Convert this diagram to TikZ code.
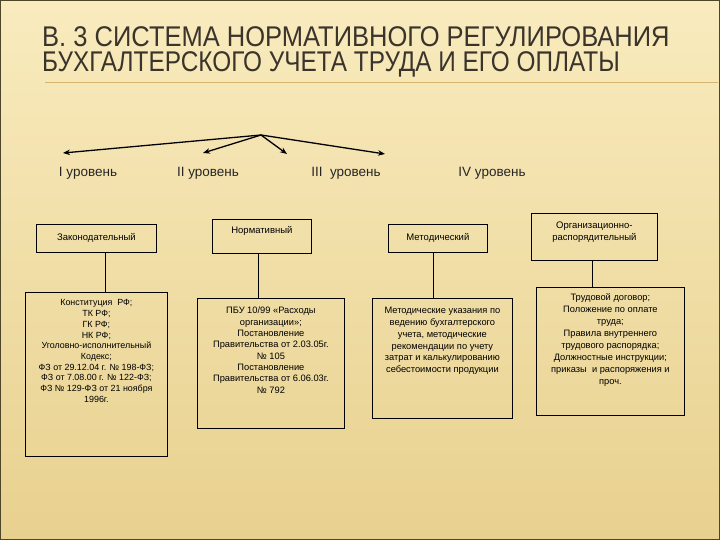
\documentclass[tikz,border=0pt]{standalone}
\usepackage{fontspec}
\setmainfont{Liberation Sans}
\newfontfamily\titlefonta[FakeStretch=0.895]{Liberation Sans}
\newfontfamily\titlefontb[FakeStretch=0.855]{Liberation Sans}
\usetikzlibrary{arrows.meta}
\definecolor{bgtop}{HTML}{F9EBBE}
\definecolor{bgbot}{HTML}{E8D18F}
\definecolor{frame}{HTML}{4D4628}
\definecolor{titlec}{HTML}{3A342B}
\definecolor{rulec}{HTML}{D8B471}
\begin{document}
\begin{tikzpicture}[x=1pt,y=-1pt,
  box/.style={draw=black, line width=0.8pt, inner sep=0pt, anchor=north west},
  lvl/.style={font=\fontsize{13.5}{15}\selectfont, text=black!85, anchor=center},
  arr/.style={line width=1.3pt, -{Stealth[length=7pt,width=5.5pt]}},
  conn/.style={line width=0.8pt},
  ttl/.style={anchor=base west, inner sep=0pt, text=titlec, text height=20.5pt, text depth=0pt}]
\useasboundingbox (0,0) rectangle (720,540);
\shade[top color=bgtop, bottom color=bgbot] (0,0) rectangle (720,540);
\draw[frame, line width=2.5pt] (0,0) rectangle (720,540);
% title
\node[ttl, font=\titlefonta\fontsize{28.5}{28.5}\selectfont] (t1) at (42,46.5) {В. 3 СИСТЕМА НОРМАТИВНОГО РЕГУЛИРОВАНИЯ};
\node[ttl, font=\titlefontb\fontsize{28.5}{28.5}\selectfont] (t2) at (42,71.5) {БУХГАЛТЕРСКОГО УЧЕТА ТРУДА И ЕГО ОПЛАТЫ};
\draw[rulec, line width=0.8pt] (45,82) -- (718,82);
% arrows
\coordinate (o) at (261,135);
\coordinate (e1) at (63,153);
\coordinate (e2) at (203,153);
\coordinate (e3) at (287,154);
\coordinate (e4) at (385,154);
\draw[arr] (o) -- (e1);
\draw[arr] (o) -- (e2);
\draw[arr] (o) -- (e3);
\draw[arr] (o) -- (e4);
% levels
\node[lvl] (l1) at (88,173) {I уровень};
\node[lvl] (l2) at (208,173) {II уровень};
\node[lvl] (l3) at (346,173) {III\ \ уровень};
\node[lvl] (l4) at (492,173) {IV уровень};
% top boxes
\node[box] (zak) at (36,224) {\parbox[c][28pt][c]{120pt}{\centering\fontsize{9.5}{12}\selectfont Законодательный}};
\node[box] (norm) at (212,219) {\parbox[c][34pt][t]{99pt}{\centering\fontsize{9.5}{12}\selectfont\rule{0pt}{14pt}Нормативный}};
\node[box] (metd) at (388,224) {\parbox[c][28pt][c]{99pt}{\centering\fontsize{9.5}{12}\selectfont Методический}};
\node[box] (org) at (531,213) {\parbox[c][47pt][t]{126pt}{\centering\fontsize{9.5}{12.5}\selectfont\rule{0pt}{15pt}Организационно-\\распорядительный}};
% bottom boxes
\node[box] (kon) at (25,292) {\parbox[c][164pt][t]{142pt}{\centering\fontsize{8.9}{10.7}\selectfont\rule{0pt}{13.5pt}Конституция\ \ РФ;\\ТК РФ;\\ГК РФ;\\НК РФ;\\Уголовно-исполнительный\\Кодекс;\\ФЗ от 29.12.04 г. № 198-ФЗ;\\ФЗ от 7.08.00 г. № 122-ФЗ;\\ФЗ № 129-ФЗ от 21 ноября\\1996г.}};
\node[box] (pbu) at (197,298) {\parbox[c][130pt][t]{147pt}{\centering\fontsize{9.3}{11.3}\selectfont\rule{0pt}{15.5pt}ПБУ 10/99 «Расходы\\организации»;\\Постановление\\Правительства от 2.03.05г.\\№ 105\\Постановление\\Правительства от 6.06.03г.\\№ 792}};
\node[box] (met) at (372,298) {\parbox[c][120pt][t]{140pt}{\centering\fontsize{9.3}{11.7}\selectfont\rule{0pt}{15.5pt}Методические указания по\\ведению бухгалтерского\\учета, методические\\рекомендации по учету\\затрат и калькулированию\\себестоимости продукции}};
\node[box] (trud) at (536,287) {\parbox[c][128pt][t]{148pt}{\centering\fontsize{9.3}{11.9}\selectfont\rule{0pt}{13.5pt}Трудовой договор;\\Положение по оплате\\труда;\\Правила внутреннего\\трудового распорядка;\\Должностные инструкции;\\приказы\ \ и распоряжения и\\проч.}};
% connectors
\draw[conn] ([xshift=9pt]zak.south) -- ([xshift=9pt]zak.south |- kon.north);
\draw[conn] ([xshift=-3.5pt]norm.south) -- ([xshift=-3.5pt]norm.south |- pbu.north);
\draw[conn] ([xshift=-4.5pt]metd.south) -- ([xshift=-4.5pt]metd.south |- met.north);
\draw[conn] ([xshift=-2pt]org.south) -- ([xshift=-2pt]org.south |- trud.north);
\end{tikzpicture}
\end{document}
